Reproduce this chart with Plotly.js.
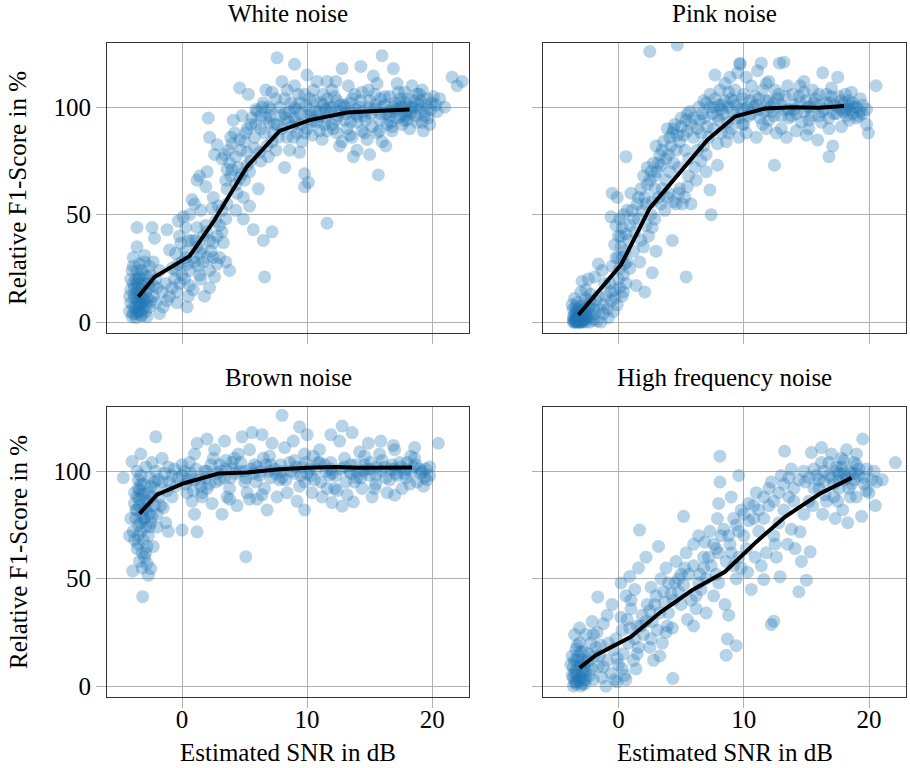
<!DOCTYPE html>
<html><head><meta charset="utf-8">
<script src="https://cdn.plot.ly/plotly-3.0.1.min.js"></script>
<style>html,body{margin:0;padding:0;background:#fff}#chart{width:910px;height:768px}</style>
</head><body><div id="chart"></div>
<script>
const panelTitles = ["White noise", "Pink noise", "Brown noise", "High frequency noise"];
const xTitle = "Estimated SNR in dB";
const yTitle = "Relative F1-Score in %";
const xTicks = [0, 10, 20];
const yTicks = [0, 50, 100];

// White noise: scatter points [SNR, F1] and mean line
const whitePoints = [
[-4.0,24],[-3.9,18],[-3.6,14],[-3.4,9],[-3.1,6],[-3.9,7],[-4.0,2.5],[-2.8,2.5],[-2.6,7],[-2.3,12],[-3.4,27],[-3,31],[-2.3,28],[-1.8,24],[-1.3,18],[-1,12],[-0.4,14],[-0.2,18],[-0.4,9],[0.4,7],[-1.5,7],[-1.8,4],[-3.6,44],[-2.4,44],[-2.2,39],[-3.6,35],[-3.7,20],[-3.5,16],[-3.3,12],[-3.8,11],[-4.1,15],[-4.2,5],[-3.7,4],[-3.2,3],[-3.5,8],[-3.0,10],[-2.9,14],[-2.7,18],[-3.1,22],[-3.6,24],[-3.9,30],[-2.5,22],[-2.0,16],[-2.1,9],[-3.3,18],[-3.8,13],[-4.1,9],[-3.4,5],[-2.8,11],[-3.2,15],[-3.5,20],[-2.6,26],[-3.0,28],[-4.2,12],
[-1.0,33.5],[-0.1,36.6],[-1.2,43],[-0.2,40],[0.1,49],[0.6,50],[1.0,55],[1.4,68],[1.2,66],[2.0,70],[1.9,63],[2.5,58],[0.4,27],[1.0,28],[1.4,22],[0.6,17],[0.9,15],[2.0,30],[2.2,24],[2.6,21],[2.8,27],[3.8,24],[1.7,40],[1.2,44],[2.5,37],[2.0,42],[3.0,45],[3.3,37],[2.7,47],[3.2,52],[3.6,55],[1.4,32],[0.8,38],[0.3,44],[-0.5,32],[-0.8,25],[0.0,22],[0.5,12],[1.8,12],[1.2,35],[2.3,33],[3.0,30],[-0.3,47],[0.8,57],[1.5,52],[2.4,53],[0.3,30],[1.7,28],[2.2,16],[-0.6,20],[3.5,28],
[2.1,95],[2.2,86],[2.8,82.5],[2.6,78],[3.4,78],[3.9,86],[4.2,88],[4.6,109],[5.3,106],[4.0,71],[3.8,74],[4.3,64],[4.4,60],[4.6,67],[5.0,66],[4.9,58],[5.4,70],[5.5,75],[5.8,86],[6.3,90],[5.7,43],[6.5,38],[7.2,42],[6.6,21],[4.9,48],[4.3,52],[3.6,62],[3.9,68],[4.7,80],[5.0,84],[5.2,90],[5.6,95],[6.0,98],[6.4,100],[6.7,108],[7.0,96],[6.2,79],[6.8,82],[3.2,76],[4.1,94],[4.8,96],[5.9,92],[5.2,79],[4.5,72],[3.5,66],[5.4,54],[6.1,62],[6.3,75],[7.3,88],[7.6,92],
[7.6,123],[9.0,120],[10.0,115],[12.8,118],[14.3,119],[16.0,124],[16.9,118],[21.6,114],[22.4,112],[22.0,110],[10.8,112],[11.6,112],[12.3,112],[15.3,114.6],[15.6,111],[17.2,111],[18.4,110],[19.2,108],[20.1,105],[20.6,104],[21.0,100],[20.4,98],[19.8,92],[19.4,96],
[9.8,69],[10.1,65],[9.8,63],[11.6,46],[15.7,68.5],[14.0,80],[13.7,77],[8.2,72],
[7.8,100],[8.2,104],[8.6,98],[9.0,95],[9.4,102],[9.8,106],[10.2,99],[10.6,103],[11.0,96],[11.4,92],[11.8,100],[12.2,105],[12.6,98],[13.0,94],[13.4,102],[13.8,106],[14.2,100],[14.6,96],[15.0,103],[15.4,99],[15.8,94],[16.2,101],[16.6,105],[17.0,98],[17.4,102],[17.8,100],[18.2,97],[18.6,103],[19.0,99],[19.5,101],[8.0,90],[8.4,86],[8.8,91],[9.2,88],[9.6,84],[10.0,90],[10.4,87],[10.8,93],[11.2,85],[11.6,89],[12.0,92],[12.4,88],[12.8,84],[13.2,90],[13.6,86],[14.0,93],[14.4,89],[14.8,85],[15.2,91],[15.6,88],[16.0,84],[16.4,92],[16.8,89],[17.2,95],[17.6,92],[18.0,94],[18.4,98],[18.8,93],[7.2,84],[7.5,80],[6.9,77],[8.6,80],[9.4,79],[12.6,82],[16.3,82],[15.0,78],[18.2,90],[19.3,89],[10.5,108],[13.3,110],[14.9,108],[17.8,107],[19.0,106],[12.0,108],[9.0,110],[8.0,112],[7.2,107],[6.5,102],[7.0,93],[11.3,101],[15.9,97],[16.9,100],[17.5,104],[18.9,101],[19.9,99],[20.3,101],[17.9,96],[16.6,96],[13.9,97],[12.9,101],[11.6,104],[10.3,96],[9.1,99],[8.3,95],
[8.2,97],[8.7,102],[9.1,93],[9.5,97],[9.9,101],[10.3,93],[10.7,98],[11.1,102],[11.5,95],[11.9,98],[12.3,94],[12.7,101],[13.1,97],[13.5,93],[13.9,99],[14.3,103],[14.7,94],[15.1,97],[15.5,101],[15.9,104],[16.3,97],[16.7,93],[17.1,99],[17.5,96],[17.9,102],[18.3,100],[18.7,96],[19.1,103],[19.4,98],[19.7,95],[16.0,100],[16.5,98],[17.0,102],[17.5,100],[18.0,98],[18.5,100],[15.0,100],[14.5,98],[14.0,96],[13.5,98],[13.0,100],[12.5,96],[12.0,100],[11.5,99],[11.0,98],[10.5,94],[10.0,96],[9.5,92],[9.0,100],[8.5,93],[16.2,105],[17.3,107],[18.1,104],[15.4,106],[14.4,107],[13.6,104],[12.4,103],[11.3,106],[10.2,104],[9.3,106],[8.4,108],[7.5,104],[7.9,96],[17.8,94],[16.8,91],[15.8,89],[14.6,88],[13.4,87],[12.1,90],[11.0,89],[9.8,88],[8.9,86],[19.6,104],[18.8,106],[20.0,102],[19.2,93],
[-3.9,4],[-3.7,7],[-3.5,5],[-3.3,8],[-3.1,11],[-2.9,8],[-3.6,10],[-3.4,13],[-3.2,9],[-3.8,16],[-3.6,18],[-3.4,21],[-3.2,24],[-3.0,18],[-2.8,21],[-2.6,16],[-3.7,2],[-3.3,3],[-2.9,5],[-2.5,10],[-2.3,17],[-2.1,20],[-1.6,14],[-1.2,10],[-0.8,16],[-0.5,24],[-4.1,20],[-3.9,26],
[0.0,28],[0.3,33],[0.6,24],[0.9,30],[1.1,38],[1.3,26],[1.6,34],[1.9,45],[2.2,38],[2.5,30],[0.5,38],[0.2,20],[-0.3,27],[1.5,20],[2.8,40],[3.2,42],[3.5,48],[2.9,54],
[3.7,80],[4.3,77],[4.6,85],[5.1,88],[5.5,92],[5.9,99],[6.3,96],[6.7,95],[7.1,99],[7.4,92],[6.6,88],[5.8,81],[5.2,73],[4.8,69],[4.0,83],[3.6,71],[6.9,100],[7.7,86]
];
const whiteLineX = [-3.5, -2.2, 0.6, 2.6, 5.2, 7.8, 10.2, 13.2, 15.5, 18.2];
const whiteLineY = [11.8, 21, 30.7, 47.5, 72.4, 89, 94, 97.5, 98.3, 99];

// Pink noise
const pinkPoints = [
[-3.5,0],[-3.4,0.5],[-3.2,0],[-3.0,0],[-2.8,0.5],[-2.6,0],[-3.6,1],[-3.3,2],[-3.1,3],[-2.9,2],[-2.7,4],[-3.5,3.5],[-3.4,5],[-3.2,6],[-3.0,7],[-2.8,8],[-3.6,6],[-3.4,1.5],[-2.5,2],[-2.3,0],[-2.2,3],[-2.0,1],[-1.7,0.5],[-1.4,0],[-3.7,8],[-3.5,11],[-3.0,14],[-2.6,15],[-2.2,13],[-1.8,10],[-1.5,6],[-1.2,4],[-0.8,2],[-0.4,5],[-0.1,8],[-2.9,19],[-2.4,20],[-1.6,27],[-1.9,21],[-1.1,18],[-1.3,24],[-2.3,10],[-2.0,6],[-3.3,9],[-2.6,11],[-1.0,12],[-0.6,10],[-0.3,15],[0.0,20],[-2.7,1],[-3.1,1],[-3.3,0],[-2.9,0],
[0.1,25],[0.3,30],[0.2,35],[0.0,40],[0.3,44],[-0.3,36],[0.5,33],[0.4,22],[0.6,18],[0.3,12],[0.7,28],[0.8,38],[0.1,48],[-0.1,58],[-0.5,60],[-0.6,49],[-0.2,45],[0.9,45],[1.1,52],[0.6,41],[0.9,25],[1.2,33],[0.0,30],[0.4,14],[-0.5,26],[-0.7,18],
[1.5,55],[1.8,62],[2.0,68],[2.3,72],[2.1,58],[1.6,48],[2.2,45],[2.6,50],[2.4,40],[1.8,38],[2.7,56],[2.9,62],[2.5,66],[3.1,70],[2.8,74],[3.3,78],[3.0,82],[2.2,55],[2.7,44],[3.2,58],[1.4,17],[2.1,14],[2.7,23],[0.6,77],[2.5,126],[4.7,129],[1.3,42],[2.0,35],[3.0,33],[1.7,28],
[3.5,62],[3.8,66],[4.1,70],[4.4,74],[4.0,78],[4.6,80],[4.9,84],[5.2,87],[4.3,88],[3.9,90],[4.5,92],[5.0,95],[5.5,97],[5.8,92],[5.3,80],[5.6,76],[6.0,86],[6.3,90],[3.6,84],[4.2,82],[4.3,38],[5.4,21],[4.6,55],[5.1,55],[5.8,55],[5.3,58],[4.9,62],[4.4,56],[6.2,66],[4.0,60],[3.7,52],[5.6,68],[6.1,72],[4.8,72],[5.5,89],[6.5,94],[3.4,73],
[6.6,75],[7.0,78],[7.4,50],[7.3,61.5],[7.9,73],[6.8,82],[7.2,86],[7.6,90],[8.0,94],[8.4,97],[8.8,100],[9.2,103],[6.9,95],[7.3,100],[7.7,104],[8.1,108],[8.5,111],[8.9,114],[9.5,116],[9.7,120],[7.7,115],[6.8,103],[7.5,97],[8.2,88],[8.6,84],[9.0,90],[9.4,95],[9.8,99],[8.3,101],[7.9,83],[9.6,86],[10.0,92],[6.6,88],[7.1,91],[8.7,93],[9.3,108],[9.9,104],
[10.4,96],[10.8,100],[11.2,104],[11.6,98],[12.0,94],[12.4,102],[12.8,106],[13.2,99],[13.6,95],[14.0,101],[14.4,105],[14.8,98],[15.2,94],[15.6,102],[16.0,106],[16.4,99],[16.8,95],[17.2,101],[17.6,105],[18.0,98],[18.4,103],[18.8,100],[19.2,96],[19.5,101],[10.6,110],[11.1,117],[11.4,120.5],[12.85,120.5],[13.2,121],[16.3,116],[17.5,114],[12.0,112],[14.5,110],[15.5,108],[17.0,109],[18.6,107],[10.2,88],[11.0,86],[11.8,90],[12.6,88],[12.45,73],[13.4,86],[14.2,89],[15.0,87],[15.9,84.8],[16.8,77],[17.1,82],[17.8,91],[18.4,94],[19.95,88],[20.56,110],[19.0,95],[19.3,104],[18.2,99],[17.4,97],[16.6,102],[13.8,96],[12.2,98],[11.3,95],[10.5,103],[15.3,100],[14.6,93],[16.2,93],[18.7,102],[19.8,99],[9.7,120.5],
[-3.4,0],[-3.2,1],[-3.0,2],[-2.8,1.5],[-3.6,2.5],[-3.5,1],[-3.3,4],[-3.1,5],[-2.9,4],[-2.7,6],[-2.5,5],[-3.4,7],[-3.2,3],[-3.0,0.5],[-2.6,3],[-2.4,7],[-3.6,0],[-3.1,0],[-2.2,9],[-1.9,4],[-1.6,12],[-1.2,8],[-0.9,6],[-0.6,14],[-0.3,11],[0.1,16],[-0.2,30],[0.2,40],[0.5,27],[0.4,50],[0.7,52],[1.0,60],
[1.2,48],[1.6,58],[1.9,52],[2.3,64],[2.6,70],[2.9,68],[3.2,74],[3.5,80],[3.8,76],[4.1,86],[4.4,90],[4.7,87],[5.0,91],[5.4,94],[5.7,98],[6.0,95],[6.4,100],[6.7,97],[7.0,102],[7.3,106],[7.6,100],[7.9,96],[8.2,99],[8.5,103],[8.8,107],[9.1,98],[9.4,101],[9.7,95],[10.0,106],[10.3,100],[10.6,97],[10.9,105],[11.2,99],[11.5,108],[11.8,103],[12.1,100],[12.4,96],[12.7,104],[13.0,101],[13.3,105],[13.6,99],[13.9,106],[14.2,97],[14.5,102],[14.8,107],[15.1,100],[15.4,96],[15.7,104],[16.0,101],[16.3,98],[16.6,106],[16.9,102],[17.2,97],[17.5,100],[17.8,103],[18.1,106],[18.4,101],[18.7,97],[19.0,100],[19.3,98],[18.0,102],[17.0,105],[16.0,96],[15.0,103],[14.0,99],[13.0,96],[12.0,103],[11.0,101],[10.0,99],[9.0,104],[8.0,101],[18.5,99],[17.8,99],[18.2,96],[19.5,97],[12.5,108],[13.5,110],[11.8,111],[14.8,112],[10.2,114],
[2.9,48],[3.4,55],[3.9,58],[4.8,60],[5.5,63],[6.3,80],[7.0,70],[8.8,88],[9.9,92],[11.5,92],[13.0,90],[15.2,90],[16.8,90],[19.8,92]
];
const pinkLineX = [-3.2, 0.2, 2.5, 4.9, 7.1, 9.3, 11.7, 13.9, 16.0, 18.0];
const pinkLineY = [3.3, 26.6, 53, 69.3, 84.8, 95.7, 99.4, 100, 99.8, 100.6];

// Brown noise
const brownPoints = [
[-4.7,97],[-4.0,104.5],[-3.6,100],[-3.3,98],[-2.9,102],[-2.6,97],[-2.2,95],[-3.8,90],[-3.5,92],[-3.1,94],[-2.7,90],[-2.4,88],[-3.8,85],[-3.4,87],[-3.0,83],[-2.6,80],[-2.2,84],[-3.7,78],[-3.3,76],[-2.9,74],[-2.5,76],[-3.9,72],[-3.5,70],[-3.1,68],[-2.7,70],[-3.6,64],[-3.2,62],[-2.8,65],[-3.4,58],[-3.0,60],[-3.95,53.5],[-2.7,51.6],[-2.5,54.7],[-2.8,57],[-3.15,41.6],[-3.2,55],[-2.0,80],[-1.5,83],[-1.8,88],[-1.2,91],[-1.6,95],[-2.1,100],[-2.1,116],[-1.1,102],[-0.8,98],[-0.5,93],[-1.3,76],[-1.1,72],[-3.5,96],[-3.7,82],[-2.4,104],[-1.6,106],[-3.3,108],[-4.1,78],[-4.2,70],[-2.3,65],[-2.0,74],[-3.0,89],[-2.5,93],
[0.0,72.6],[1.2,71.8],[5.1,60.2],[8.0,126],[9.4,120.6],[20.5,113],[9.8,82],[12.0,85.4],[12.8,83.7],[13.7,85.7],[17.0,88.8],
[0.2,100],[0.6,104],[1.0,108],[1.4,96],[1.8,100],[2.2,94],[2.6,110],[3.0,103],[3.4,97],[3.8,92],[4.2,106],[4.6,100],[5.0,95],[5.4,110],[5.8,103],[6.2,98],[6.6,92],[7.0,107],[7.4,101],[7.8,96],[8.2,111],[8.6,104],[9.0,99],[9.4,93],[9.8,108],[10.2,101],[10.6,96],[11.0,110],[11.4,103],[11.8,98],[12.2,92],[12.6,114],[13.0,106],[13.4,100],[13.8,95],[14.2,109],[14.6,103],[15.0,98],[15.4,92],[15.8,108],[16.2,102],[16.6,96],[17.0,110],[17.4,104],[17.8,99],[18.2,94],[18.6,106],[19.0,101],[19.4,97],[19.8,102],[0.4,90],[0.8,86],[1.6,88],[2.4,85],[3.2,80],[3.6,88],[4.4,84],[5.2,90],[6.0,87],[6.8,82],[7.6,88],[8.4,90],[9.2,86],[10.4,90],[11.2,88],[12.4,91],[13.2,89],[14.4,92],[15.2,88],[16.4,90],[17.6,92],[18.8,95],[19.6,96],[1.2,113],[2.0,115],[3.4,114],[4.8,116],[5.6,118],[6.4,117],[7.2,113],[8.9,114],[10.0,117],[11.9,117],[12.8,121],[13.6,118],[14.9,113],[15.9,114],[16.9,112],[18.6,111],[0.5,96],[2.8,99],[4.0,101],[5.7,99],[7.1,103],[8.0,100],[9.6,102],[10.9,104],[11.9,101],[13.5,103],[14.5,100],[15.6,102],[16.8,103],[17.9,101],[18.5,102],[19.2,100],[6.5,106],[3.5,105],[2.0,92],[1.0,80],[5.4,87],[9.8,95],[14.0,97],[17.2,98],
[-3.6,82],[-3.4,84],[-3.2,80],[-3.0,78],[-2.8,86],[-3.5,75],[-3.3,72],[-3.1,78],[-2.9,82],[-2.7,84],[-3.6,88],[-3.4,91],[-3.2,89],[-2.6,74],[-2.4,79],[-3.8,68],[-3.5,66],[-2.9,62],[-3.3,94],[-2.2,92],[-1.9,96],[-1.4,99],[-1.0,95],[-0.6,101],[-0.3,97],[0.0,103],[0.3,94],[0.7,99],[1.1,101],[1.5,93],[1.9,97],[2.3,103],[2.7,95],[3.1,100],[3.5,101],[3.9,97],[4.3,99],[4.7,104],[5.1,97],[5.5,101],[5.9,95],[6.3,100],[6.7,103],[7.1,97],[7.5,99],[7.9,103],[8.3,96],[8.7,100],[9.1,102],[9.5,98],[9.9,104],[10.3,98],[10.7,101],[11.1,95],[11.5,100],[11.9,104],[12.3,98],[12.7,101],[13.1,95],[13.5,99],[13.9,103],[14.3,97],[14.7,101],[15.1,104],[15.5,98],[15.9,100],[16.3,97],[16.7,101],[17.1,99],[17.5,102],[17.9,97],[18.3,100],[18.7,103],[19.1,99],[19.5,101],[19.8,98],[18.0,104],[17.0,101],[16.0,105],[15.0,101],[14.0,100],[13.0,102],[12.0,99],[11.0,104],[10.0,99],[9.0,105],[8.0,97],[7.0,100],[6.0,102],[5.0,100],[4.0,104],[3.0,96],[2.0,100],[1.0,96],[0.0,98],[2.5,106],[4.5,108],[10.5,107],[14.6,107],[18.3,107],[1.6,90],[3.8,87],[6.4,89],[11.6,92],[15.5,94],[19.3,93],[-1.7,84],[-0.8,88],[0.9,91]
];
const brownLineX = [-3.4, -2.0, 0.1, 2.9, 5.2, 7.8, 10.0, 12.4, 14.0, 16.1, 18.4];
const brownLineY = [80.3, 89.1, 94.3, 98.9, 99.4, 100.9, 101.6, 102, 101.6, 101.7, 101.7];

// High frequency noise
const highPoints = [
[-3.6,0],[-3.3,2],[-3.0,4],[-2.7,1],[-3.5,6],[-3.2,9],[-2.9,12],[-2.6,7],[-3.7,14],[-3.4,17],[-3.1,20],[-2.8,16],[-2.5,11],[-2.3,5],[-2.0,3],[-3.8,10],[-3.5,24],[-3.1,27],[-2.6,24],[-2.2,20],[-1.9,14],[-1.6,9],[-1.3,4],[-1.0,0],[-3.3,12],[-2.9,7],[-3.6,4],[-3.0,0],[-2.4,15],[-1.7,25],[-1.4,19],[-0.9,12],[-0.6,6],[-0.3,3],[-1.65,41.5],[-0.9,33],[-0.5,38],[-2.1,30],[-3.4,1],[-2.8,3],
[0.0,10],[0.4,15],[0.8,20],[0.3,26],[0.7,31],[-0.2,22],[1.2,12],[1.6,18],[2.0,24],[1.5,28],[1.9,33],[2.3,38],[1.0,36],[0.6,42],[0.2,48],[0.9,51],[1.6,55],[1.0,40],[2.7,30],[3.1,26],[3.5,20],[3.0,42],[2.6,46],[3.4,50],[3.8,55],[2.2,60],[1.68,72.6],[3.2,65],[4.0,34],[4.3,27],[3.7,39],[2.5,18],[3.3,14],[4.34,3.6],[0.5,5],[-0.1,2],[1.4,8],[2.8,12],[4.2,43],[3.9,28],[1.3,45],
[4.5,48],[5.0,52],[4.6,58],[5.4,62],[5.8,40],[6.2,36],[6.6,45],[5.5,31],[6.0,28],[7.0,50],[7.4,56],[6.8,60],[7.8,64],[8.2,70],[8.6,58],[9.0,62],[5.2,79],[6.4,70],[6.0,66],[7.3,72],[7.6,42],[8.0,48],[8.5,38],[8.8,33],[9.4,50],[9.8,55],[9.4,75],[9.8,82],[9.0,88],[8.0,85],[8.1,95],[8.1,107],[9.6,98],[8.6,14.4],[9.4,18.8],[8.7,21.9],[10.0,70],[10.4,77],[10.8,84],[7.0,34],[5.3,55],[8.9,66],[9.6,60],[10.2,64],[7.9,78],[6.9,67],[4.8,44],[6.5,52],
[11.2,72],[11.6,78],[12.0,84],[11.0,90],[11.8,62],[12.4,70],[12.8,76],[13.2,82],[13.6,88],[14.0,92],[12.2,95],[13.0,98],[13.8,101],[13.26,109.3],[12.2,28.7],[12.4,30.2],[15.0,49.3],[14.4,43.9],[12.9,50.9],[11.6,49.6],[15.3,62.5],[14.1,64],[14.5,71.8],[14.8,80],[15.2,86],[15.6,92],[16.0,96],[16.4,100],[16.8,104],[15.4,108.7],[16.2,111],[19.5,115],[17.2,88],[17.6,92],[18.0,96],[18.4,100],[18.8,104],[19.2,98],[19.6,94],[20.0,90],[20.4,100],[20.5,84],[21.06,96],[22.1,104],[19.4,79],[17.0,97],[17.4,102],[17.8,106],[18.2,110],[18.6,94],[19.0,88],[16.6,86],[17.9,82],[18.3,76],[15.8,98],[14.9,95],[16.3,80],[17.3,78],[19.8,101],[20.2,96],[18.9,99],[17.6,99],[12.6,60],[13.5,66],[11.4,56],[10.6,45],[10.3,53],[14.6,58],
[-3.5,2],[-3.3,5],[-3.1,3],[-2.9,1],[-3.6,9],[-3.4,7],[-3.2,14],[-3.0,10],[-2.8,6],[-2.6,3],[-3.7,5],[-3.5,12],[-3.3,19],[-3.0,16],[-2.7,9],[-2.4,12],[-2.1,8],[-1.8,18],[-1.5,14],[-1.2,9],[-0.8,20],[-0.4,17],[-0.1,13],[0.3,8],[0.6,3],[-2.0,24],[-1.2,29],[0.2,32],[0.9,27],[1.3,22],[1.8,28],[2.2,30],[2.5,35],[2.9,38],[3.3,34],[3.6,44],[4.0,48],[4.4,40],[4.8,50],[5.2,47],[5.6,52],[6.0,56],[6.4,48],[6.8,55],[7.2,60],[7.6,66],[8.0,62],[8.4,73],[8.8,70],[9.2,78],[9.6,72],[10.0,80],[10.4,85],[10.8,78],[11.2,82],[11.6,88],[12.0,92],[12.4,86],[12.8,90],[13.2,94],[13.6,97],[14.0,86],[14.4,96],[14.8,100],[15.2,97],[15.6,101],[16.0,92],[16.4,95],[16.8,98],[17.2,94],[17.6,96],[18.0,99],[18.4,92],[18.8,96],[19.2,101],[19.6,97],[17.4,100],[17.8,102],[18.2,97],[18.6,99],[19.0,103],[16.2,104],[17.0,108],[18.0,105],[19.0,108],[16.5,89],[17.5,86],[18.5,88],[15.5,84],[19.8,91],[20.6,95],[13.8,73],[12.5,66],[10.9,60],[9.2,56],[7.8,52],[6.2,42],[5.0,38],[3.8,25],[2.6,22],[1.5,15]
];
const highLineX = [-3.1, -1.8, 1.0, 3.4, 5.9, 8.5, 11.0, 13.3, 16.1, 18.6];
const highLineY = [8.5, 14.4, 22.9, 34.6, 44.7, 53.2, 67.1, 78.8, 89.6, 96.9];

const FONT = "Liberation Serif, Times New Roman, serif";
const panels = [
  {pts: whitePoints, lx: whiteLineX, ly: whiteLineY},
  {pts: pinkPoints, lx: pinkLineX, ly: pinkLineY},
  {pts: brownPoints, lx: brownLineX, ly: brownLineY},
  {pts: highPoints, lx: highLineX, ly: highLineY}
];
const traces = [];
panels.forEach((p, i) => {
  const s = i === 0 ? '' : String(i + 1);
  traces.push({type: 'scatter', mode: 'markers', x: p.pts.map(d => d[0]), y: p.pts.map(d => d[1]),
    xaxis: 'x' + s, yaxis: 'y' + s, hoverinfo: 'skip',
    marker: {size: 13, color: '#1f77b4', opacity: 0.32, line: {width: 0}}});
  traces.push({type: 'scatter', mode: 'lines', x: p.lx, y: p.ly, xaxis: 'x' + s, yaxis: 'y' + s,
    line: {color: '#000', width: 4}, hoverinfo: 'skip'});
});

const xDom = [[0.1176, 0.5154], [0.5970, 0.9956]];
const yDom = [[0.5664, 0.9440], [0.0924, 0.4701]];
function xa(dom, anchor, labels) {
  return {domain: dom, anchor: anchor, range: [-6, 22.95], tickvals: xTicks, showticklabels: labels,
    ticks: 'outside', ticklen: 10, tickcolor: '#b0b0b0', tickwidth: 1, ticklabelstandoff: -10,
    showgrid: true, gridcolor: '#b0b0b0', gridwidth: 1, zeroline: false,
    showline: true, linecolor: '#333', linewidth: 1, mirror: true,
    tickfont: {family: FONT, size: 25, color: '#000'}};
}
function ya(dom, anchor, labels) {
  return {domain: dom, anchor: anchor, range: [-5.1, 129.9], tickvals: yTicks, showticklabels: labels,
    ticks: 'outside', ticklen: 10, tickcolor: '#b0b0b0', tickwidth: 1,
    showgrid: true, gridcolor: '#b0b0b0', gridwidth: 1, zeroline: false,
    showline: true, linecolor: '#333', linewidth: 1, mirror: true,
    tickfont: {family: FONT, size: 25, color: '#000'}};
}
const tf = {family: FONT, size: 25, color: '#000'};
const cx = [(xDom[0][0] + xDom[0][1]) / 2, (xDom[1][0] + xDom[1][1]) / 2];
const annotations = [
  {text: panelTitles[0], x: cx[0], y: 1 - 13 / 768},
  {text: panelTitles[1], x: cx[1], y: 1 - 13 / 768},
  {text: panelTitles[2], x: cx[0], y: 1 - 377 / 768},
  {text: panelTitles[3], x: cx[1], y: 1 - 377 / 768},
  {text: xTitle, x: cx[0], y: 1 - 752 / 768},
  {text: xTitle, x: cx[1], y: 1 - 752 / 768},
  {text: yTitle, x: 18 / 910, y: 1 - 188 / 768, textangle: -90},
  {text: yTitle, x: 18 / 910, y: 1 - 552 / 768, textangle: -90}
].map(a => Object.assign({xref: 'paper', yref: 'paper', showarrow: false, xanchor: 'center', yanchor: 'middle', font: tf}, a));

const layout = {
  width: 910, height: 768, margin: {l: 0, r: 0, t: 0, b: 0},
  paper_bgcolor: '#fff', plot_bgcolor: '#fff', showlegend: false,
  font: tf,
  xaxis: xa(xDom[0], 'y', false), yaxis: ya(yDom[0], 'x', true),
  xaxis2: xa(xDom[1], 'y2', false), yaxis2: ya(yDom[0], 'x2', false),
  xaxis3: xa(xDom[0], 'y3', true), yaxis3: ya(yDom[1], 'x3', true),
  xaxis4: xa(xDom[1], 'y4', true), yaxis4: ya(yDom[1], 'x4', false),
  annotations: annotations
};
Plotly.newPlot('chart', traces, layout, {staticPlot: true, displayModeBar: false});
</script>
</body></html>
